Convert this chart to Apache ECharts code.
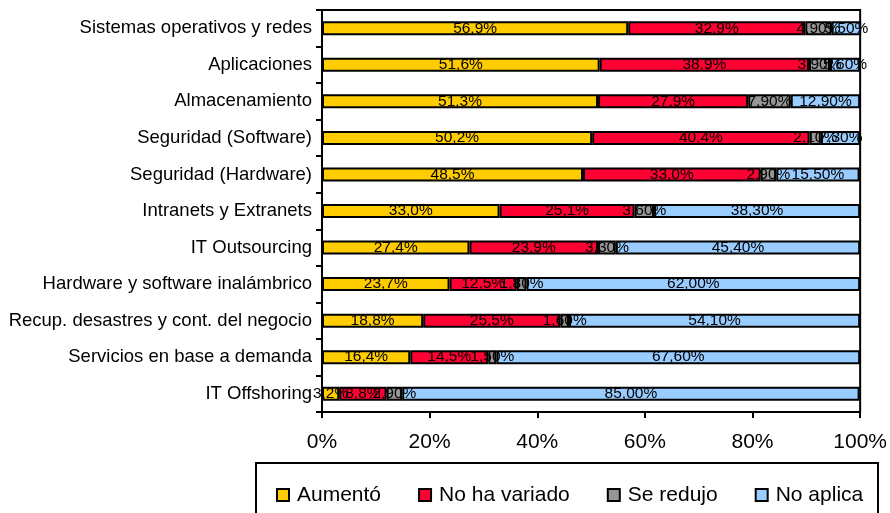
<!DOCTYPE html>
<html>
<head>
<meta charset="utf-8">
<script src="https://cdn.jsdelivr.net/npm/echarts@6/dist/echarts.min.js"></script>
<style>
  html, body { margin: 0; padding: 0; background: #fff; }
  #main { width: 890px; height: 513px; }
</style>
</head>
<body>
<div id="main"></div>
<script>
// categorías (de arriba hacia abajo)
var categorias = [
  "Sistemas operativos y redes",
  "Aplicaciones",
  "Almacenamiento",
  "Seguridad (Software)",
  "Seguridad (Hardware)",
  "Intranets y Extranets",
  "IT Outsourcing",
  "Hardware y software inalámbrico",
  "Recup. desastres y cont. del negocio",
  "Servicios en base a demanda",
  "IT Offshoring"
];

var aumento     = [56.9, 51.6, 51.3, 50.2, 48.5, 33.0, 27.4, 23.7, 18.8, 16.4, 3.2];
var noVariado   = [32.9, 38.9, 27.9, 40.4, 33.0, 25.1, 23.9, 12.5, 25.5, 14.5, 8.8];
var seRedujo    = [4.9, 3.9, 7.9, 2.1, 2.9, 3.6, 3.3, 1.8, 1.6, 1.5, 2.9];
var noAplica    = [5.5, 5.6, 12.9, 7.3, 15.5, 38.3, 45.4, 62.0, 54.1, 67.6, 85.0];

var ticksX = [0, 20, 40, 60, 80, 100];

var chartDom = document.getElementById("main");
var myChart = echarts.init(chartDom);

function etiqueta(dec) {
  return {
    show: true,
    position: "inside",
    color: "#000",
    fontSize: 15.5,
    formatter: function (p) {
      return p.value.toFixed(dec).replace(".", ",") + "%";
    }
  };
}

function serie(nombre, datos, color, dec) {
  return {
    name: nombre,
    type: "bar",
    stack: "total",
    barWidth: 14,
    data: datos,
    itemStyle: { color: color, borderColor: "#000", borderWidth: 2 },
    label: etiqueta(dec)
  };
}

var option = {
  animation: false,
  textStyle: { fontFamily: "Liberation Sans, Arial" },
  grid: {
    left: 322, right: 28, top: 10, bottom: 101,
    show: true, borderColor: "#000", borderWidth: 2
  },
  xAxis: {
    type: "value",
    min: ticksX[0],
    max: ticksX[ticksX.length - 1],
    interval: 20,
    splitLine: { show: false },
    axisLine: { show: true, lineStyle: { color: "#000", width: 2 } },
    axisTick: { show: true, length: 6, lineStyle: { color: "#000", width: 2 } },
    axisLabel: { formatter: "{value}%", color: "#000", fontSize: 21, margin: 20 }
  },
  yAxis: {
    type: "category",
    inverse: true,
    data: categorias,
    axisLine: { show: true, lineStyle: { color: "#000", width: 2 } },
    axisTick: { show: true, length: 6, lineStyle: { color: "#000", width: 2 } },
    axisLabel: { color: "#000", fontSize: 18.5, margin: 10 }
  },
  legend: {
    left: 276, top: 484,
    padding: 0,
    itemGap: 37,
    itemWidth: 12, itemHeight: 12,
    icon: "rect",
    textStyle: { color: "#000", fontSize: 21, lineHeight: 22, padding: [0, 0, 0, 3] },
    itemStyle: { borderColor: "#000", borderWidth: 2 }
  },
  graphic: [{
    type: "rect",
    shape: { x: 256, y: 463, width: 622, height: 70 },
    style: { fill: "none", stroke: "#000", lineWidth: 2 },
    silent: true,
    z: -1
  }],
  series: [
    serie("Aumentó", aumento, "#FFCC00", 1),
    serie("No ha variado", noVariado, "#FF0033", 1),
    serie("Se redujo", seRedujo, "#969696", 2),
    serie("No aplica", noAplica, "#99CCFF", 2)
  ]
};

option && myChart.setOption(option);
</script>
</body>
</html>
